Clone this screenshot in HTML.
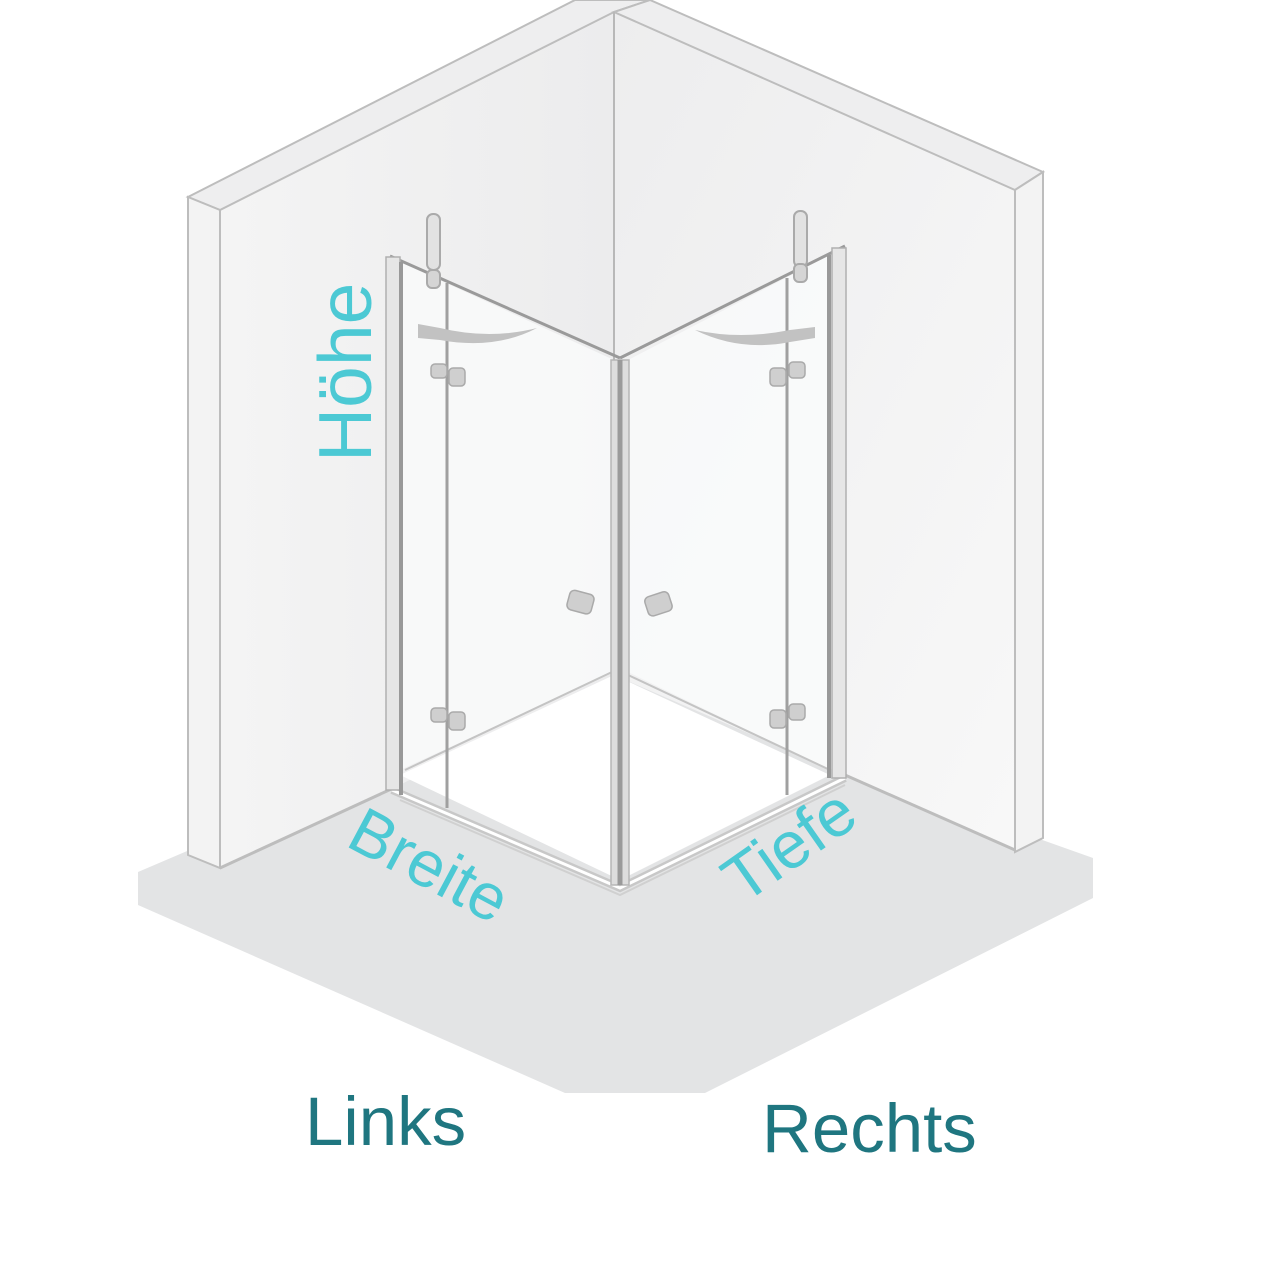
<!DOCTYPE html>
<html><head><meta charset="utf-8"><style>
html,body{margin:0;padding:0;background:#fff;}
svg{display:block;}
</style></head><body>
<svg width="1280" height="1280" viewBox="0 0 1280 1280" xmlns="http://www.w3.org/2000/svg">
<defs>
<linearGradient id="wl" x1="0" y1="0" x2="1" y2="0"><stop offset="0" stop-color="#f4f4f4"/><stop offset="1" stop-color="#ececed"/></linearGradient>
<linearGradient id="wr" x1="0" y1="0" x2="1" y2="1"><stop offset="0" stop-color="#ededee"/><stop offset="1" stop-color="#f8f8f8"/></linearGradient>
</defs>
<polygon points="138,872 400,760 620,660 845,770 1093,858 1093,898 705,1093 565,1093 138,905" fill="#e3e4e5"/>
<polygon points="220,210 614,12 614,675 390,790 220,868" fill="url(#wl)"/>
<polygon points="188,197 575,0 650,0 614,12 220,210" fill="#eeeeef" stroke="#bdbdbd" stroke-width="2"/>
<polygon points="188,197 220,210 220,868 188,855" fill="#f3f3f3" stroke="#bdbdbd" stroke-width="2"/>
<line x1="220" y1="868" x2="400" y2="785" stroke="#bdbdbd" stroke-width="3"/>
<polygon points="614,12 1015,190 1015,850 845,775 614,675" fill="url(#wr)"/>
<polygon points="650,0 1043,172 1015,190 614,12" fill="#eeeeef" stroke="#bdbdbd" stroke-width="2"/>
<polygon points="1015,190 1043,172 1043,838 1015,852" fill="#f3f3f3" stroke="#bdbdbd" stroke-width="2"/>
<line x1="1015" y1="850" x2="845" y2="775" stroke="#bdbdbd" stroke-width="3"/>
<line x1="614" y1="12" x2="614" y2="675" stroke="#b8b8b8" stroke-width="2"/>
<polygon points="400,775 614,675 830,775 620,880" fill="#fff"/>
<polygon points="400,770 614,672 614,360 400,262" fill="#fafbfb" opacity="0.8"/>
<polygon points="628,672 830,770 830,255 628,360" fill="#fafbfb" opacity="0.8"/>
<line x1="405" y1="770" x2="612" y2="672" stroke="#c4c4c4" stroke-width="2"/>
<line x1="628" y1="675" x2="830" y2="770" stroke="#c4c4c4" stroke-width="2"/>
<polyline points="392,790 620,888 845,778" fill="none" stroke="#c8c8c8" stroke-width="8"/>
<polyline points="392,790 620,888 845,778" fill="none" stroke="#fff" stroke-width="3"/>
<polyline points="400,800 620,895 845,785" fill="none" stroke="#d0d0d0" stroke-width="2"/>
<line x1="390" y1="256" x2="620" y2="358" stroke="#9a9a9a" stroke-width="3"/>
<line x1="620" y1="358" x2="845" y2="246" stroke="#9a9a9a" stroke-width="3"/>
<rect x="386" y="257" width="14" height="533" fill="#e6e6e6" stroke="#b0b0b0" stroke-width="1.5"/>
<line x1="401" y1="262" x2="401" y2="795" stroke="#999" stroke-width="4"/>
<rect x="832" y="248" width="14" height="530" fill="#e6e6e6" stroke="#b0b0b0" stroke-width="1.5"/>
<line x1="829" y1="255" x2="829" y2="778" stroke="#999" stroke-width="4"/>
<rect x="611" y="360" width="18" height="525" fill="#ddd" stroke="#b5b5b5" stroke-width="1.5"/>
<line x1="620" y1="360" x2="620" y2="885" stroke="#9a9a9a" stroke-width="5"/>
<line x1="447" y1="283" x2="447" y2="808" stroke="#a0a0a0" stroke-width="3"/>
<line x1="787" y1="278" x2="787" y2="795" stroke="#a0a0a0" stroke-width="3"/>
<rect x="427" y="214" width="13" height="56" rx="6" fill="#e2e2e2" stroke="#aaa" stroke-width="2"/>
<rect x="427" y="270" width="13" height="18" rx="5" fill="#d5d5d5" stroke="#aaa" stroke-width="2"/>
<rect x="794" y="211" width="13" height="56" rx="6" fill="#e2e2e2" stroke="#aaa" stroke-width="2"/>
<rect x="794" y="264" width="13" height="18" rx="5" fill="#d5d5d5" stroke="#aaa" stroke-width="2"/>
<path d="M418,324 L440,328 Q490,340 537,328 Q495,350 440,340 L418,338 Z" fill="#c2c2c2"/>
<path d="M815,327 L790,330 Q740,340 695,330 Q740,352 790,342 L815,338 Z" fill="#c2c2c2"/>
<g fill="#cfcfcf" stroke="#aaa" stroke-width="1.5">
<rect x="431" y="364" width="16" height="14" rx="4"/><rect x="449" y="368" width="16" height="18" rx="4"/>
<rect x="431" y="708" width="16" height="14" rx="4"/><rect x="449" y="712" width="16" height="18" rx="4"/>
<rect x="770" y="368" width="16" height="18" rx="4"/><rect x="789" y="362" width="16" height="16" rx="4"/>
<rect x="770" y="710" width="16" height="18" rx="4"/><rect x="789" y="704" width="16" height="16" rx="4"/>
<rect x="568" y="592" width="25" height="20" rx="5" transform="rotate(15 580 602)"/>
<rect x="646" y="594" width="25" height="20" rx="5" transform="rotate(-18 658 604)"/>
</g>
<g font-family="Liberation Sans, sans-serif" fill="#4cc9d4">
<text x="0" y="0" font-size="75" transform="translate(371,462) rotate(-90)">Höhe</text>
<text x="0" y="0" font-size="65" transform="translate(344,845) rotate(28)">Breite</text>
<text x="0" y="0" font-size="66" transform="translate(743,905) rotate(-35)">Tiefe</text>
</g>
<g font-family="Liberation Sans, sans-serif" fill="#1f7680" font-size="69">
<text x="305" y="1145">Links</text>
<text x="762" y="1152">Rechts</text>
</g>
</svg>
</body></html>
